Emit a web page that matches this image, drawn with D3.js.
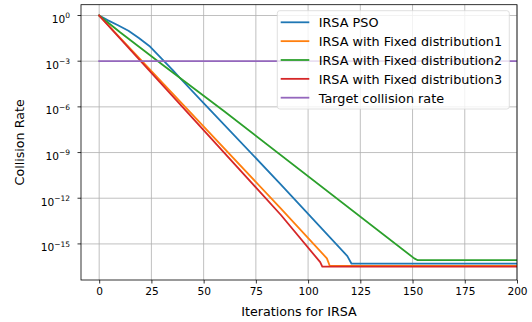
<!DOCTYPE html>
<html>
<head>
<meta charset="utf-8">
<script src="https://cdn.jsdelivr.net/npm/d3@7"></script>
<style>
  body { margin: 0; background: #fff; }
  svg { font-family: "DejaVu Sans", sans-serif; }
</style>
</head>
<body>
<svg id="chart" width="532" height="322"></svg>
<script>
// values; collision rates kept as log10 exponents
var psoIter = [0, 4, 9, 14, 19, 24, 30, 35, 40, 50, 87, 118.8, 120.8, 200];
var psoLog = [0, -0.3, -0.64, -1.0, -1.48, -2.0, -2.85, -3.55, -4.3, -5.75, -11.1, -15.8, -16.3, -16.3];

var fixed1Iter = [0, 87, 109, 110.4, 200];
var fixed1Log = [0, -12.68, -15.95, -16.45, -16.45];

var fixed2Iter = [0, 10, 20, 30, 60, 150.8, 152.5, 200];
var fixed2Log = [0, -1.1, -2.15, -3.2, -6.3, -15.95, -16.07, -16.07];

var fixed3Iter = [0, 87, 105.8, 106.8, 200];
var fixed3Log = [0, -13.1, -16.2, -16.49, -16.49];

var targetIter = [0, 200];
var targetLog = [-3, -3];

var seriesNames = ["IRSA PSO", "IRSA with Fixed distribution1", "IRSA with Fixed distribution2",
  "IRSA with Fixed distribution3", "Target collision rate"];
var seriesColors = ["#1f77b4", "#ff7f0e", "#2ca02c", "#d62728", "#9467bd"];

var xTicks = [0, 25, 50, 75, 100, 125, 150, 175, 200];
var yTickExp = [0, -3, -6, -9, -12, -15];

(function() {
  var series = [
    [psoIter, psoLog], [fixed1Iter, fixed1Log], [fixed2Iter, fixed2Log],
    [fixed3Iter, fixed3Log], [targetIter, targetLog]
  ].map(function(s, i) {
    return {
      name: seriesNames[i],
      color: seriesColors[i],
      values: s[0].map(function(x, j) { return { x: x, y: Math.pow(10, s[1][j]) }; })
    };
  });

  var svg = d3.select("#chart");
  var left = 81, right = 517, plotTop = 4.7, bottom = 280;

  var x = d3.scaleLinear().domain([-8.7, 200]).range([left, right]);
  var y = d3.scaleLog().domain([Math.pow(10, 0.71), Math.pow(10, -17.37)]).range([plotTop, bottom]);

  svg.append("clipPath").attr("id", "clip")
    .append("rect").attr("x", left).attr("y", plotTop)
    .attr("width", right - left).attr("height", bottom - plotTop);

  // grid
  var grid = svg.append("g").attr("stroke", "#b0b0b0").attr("stroke-width", 0.8);
  grid.selectAll(".gx").data(xTicks).enter().append("line")
    .attr("x1", function(d) { return x(d); }).attr("x2", function(d) { return x(d); })
    .attr("y1", plotTop).attr("y2", bottom);
  grid.selectAll(".gy").data(yTickExp).enter().append("line")
    .attr("x1", left).attr("x2", right)
    .attr("y1", function(d) { return y(Math.pow(10, d)); })
    .attr("y2", function(d) { return y(Math.pow(10, d)); });

  // lines
  var line = d3.line()
    .x(function(d) { return x(d.x); })
    .y(function(d) { return y(d.y); });

  svg.append("g").attr("clip-path", "url(#clip)")
    .selectAll("path").data(series).enter().append("path")
    .attr("d", function(d) { return line(d.values); })
    .attr("fill", "none")
    .attr("stroke", function(d) { return d.color; })
    .attr("stroke-width", 1.8)
    .attr("stroke-linejoin", "round")
    .attr("stroke-linecap", "square");

  // x axis
  var xAxis = d3.axisBottom(x).tickValues(xTicks).tickSize(3.5).tickPadding(3.5);
  var gx = svg.append("g").attr("transform", "translate(0," + bottom + ")").call(xAxis);
  gx.select(".domain").remove();
  gx.selectAll("line").attr("stroke", "#000").attr("stroke-width", 0.8);
  gx.selectAll("text").attr("font-size", "10.6px").attr("fill", "#000")
    .attr("font-family", "DejaVu Sans");

  // y axis ticks + mathtext-like labels
  var gy = svg.append("g");
  gy.selectAll("line").data(yTickExp).enter().append("line")
    .attr("x1", left - 3.5).attr("x2", left)
    .attr("y1", function(d) { return y(Math.pow(10, d)); })
    .attr("y2", function(d) { return y(Math.pow(10, d)); })
    .attr("stroke", "#000").attr("stroke-width", 0.8);
  var lbl = gy.selectAll("text").data(yTickExp).enter().append("text")
    .attr("text-anchor", "end")
    .attr("x", left - 11)
    .attr("y", function(d) { return y(Math.pow(10, d)) + 7.4; })
    .attr("font-size", "10.6px").attr("fill", "#000");
  lbl.append("tspan").text("10");
  lbl.append("tspan").attr("dy", -4.6).attr("font-size", "7.5px")
    .text(function(d) { return d === 0 ? "0" : "\u2212" + (-d); });

  // frame
  svg.append("rect").attr("x", left).attr("y", plotTop)
    .attr("width", right - left).attr("height", bottom - plotTop)
    .attr("fill", "none").attr("stroke", "#000").attr("stroke-width", 0.8);

  // axis labels
  svg.append("text").attr("x", (left + right) / 2).attr("y", 316)
    .attr("text-anchor", "middle").attr("font-size", "12.7px").attr("fill", "#000")
    .text("Iterations for IRSA");
  svg.append("text")
    .attr("transform", "translate(24," + (plotTop + bottom) / 2 + ") rotate(-90)")
    .attr("text-anchor", "middle").attr("font-size", "12.7px").attr("fill", "#000")
    .text("Collision Rate");

  // legend
  var lg = svg.append("g");
  lg.append("rect").attr("x", 277.3).attr("y", 10.7).attr("width", 232).attr("height", 98.3)
    .attr("rx", 2.5).attr("fill", "#fff").attr("fill-opacity", 0.8)
    .attr("stroke", "#d8d8d8").attr("stroke-width", 0.8);
  var rows = lg.selectAll(".row").data(series).enter().append("g")
    .attr("transform", function(d, i) { return "translate(0," + (22.3 + i * 18.85) + ")"; });
  rows.append("line").attr("x1", 280.7).attr("x2", 309.3)
    .attr("stroke", function(d) { return d.color; }).attr("stroke-width", 1.8);
  rows.append("text").attr("x", 318.7).attr("y", 4.8)
    .attr("font-size", "12.8px").attr("fill", "#000")
    .text(function(d) { return d.name; });
})();
</script>
</body>
</html>
